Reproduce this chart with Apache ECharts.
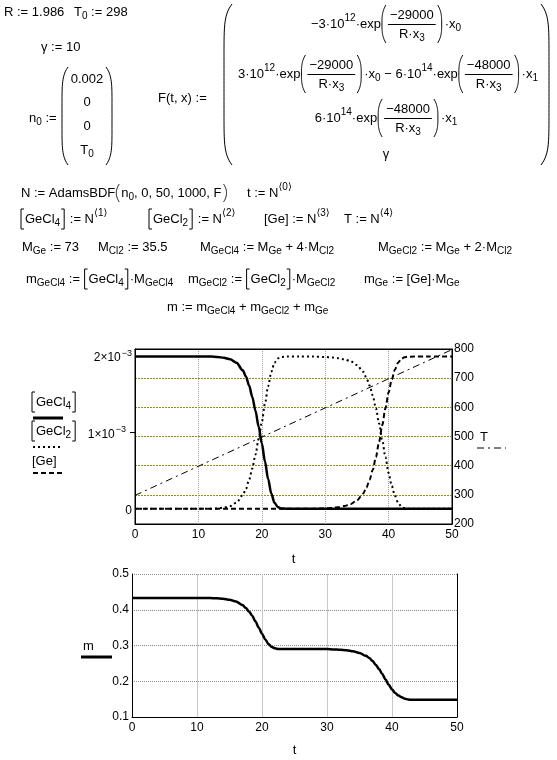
<!DOCTYPE html>
<html><head><meta charset="utf-8">
<script src="https://cdn.jsdelivr.net/npm/echarts@6/dist/echarts.min.js"></script>
<style>html,body{margin:0;padding:0;background:#fff}#c{width:557px;height:760px}</style>
</head><body><div id="c"></div>
<script>
// ---------------- data ----------------
const tTime = [0, 10, 12, 13, 14, 15, 16, 17, 17.5, 18, 18.5, 19, 19.5, 20, 20.5, 21, 21.5, 22, 22.5, 23,
  24, 26, 28, 30, 31, 32, 33, 34, 35, 36, 36.5, 37, 37.5, 38, 38.5, 39, 39.5, 40, 40.5, 41, 41.5, 42, 42.5, 43, 44, 46, 50];
// concentrations in units of 1e-3
const gecl4 = [2.0, 2.0, 2.0, 1.995, 1.985, 1.965, 1.92, 1.82, 1.74, 1.62, 1.47, 1.29, 1.08, 0.86, 0.62, 0.39, 0.2, 0.08, 0.025, 0.005,
  0, 0, 0, 0, 0, 0, 0, 0, 0, 0, 0, 0, 0, 0, 0, 0, 0, 0, 0, 0, 0, 0, 0, 0, 0, 0, 0];
const gecl2 = [0, 0, 0, 0.005, 0.015, 0.035, 0.08, 0.18, 0.26, 0.38, 0.53, 0.71, 0.92, 1.14, 1.38, 1.61, 1.8, 1.92, 1.975, 1.995,
  2.0, 2.0, 2.0, 1.995, 1.99, 1.98, 1.965, 1.94, 1.89, 1.8, 1.72, 1.62, 1.49, 1.32, 1.12, 0.9, 0.68, 0.47, 0.3, 0.17, 0.08, 0.03, 0.01, 0.002, 0, 0, 0];
const geConc = [0, 0, 0, 0, 0, 0, 0, 0, 0, 0, 0, 0, 0, 0, 0, 0, 0, 0, 0, 0,
  0, 0, 0, 0.005, 0.01, 0.02, 0.035, 0.06, 0.11, 0.2, 0.28, 0.38, 0.51, 0.68, 0.88, 1.1, 1.32, 1.53, 1.7, 1.83, 1.92, 1.97, 1.99, 1.998, 2.0, 2.0, 2.0];
const tempTime = [0, 50];
const tempVals = [298, 798];
const massVals = [0.433, 0.433, 0.433, 0.432, 0.431, 0.428, 0.423, 0.413, 0.405, 0.395, 0.383, 0.367, 0.35, 0.333, 0.317, 0.304, 0.296, 0.292, 0.29, 0.29,
  0.29, 0.29, 0.29, 0.29, 0.289, 0.288, 0.287, 0.284, 0.279, 0.271, 0.265, 0.257, 0.246, 0.234, 0.22, 0.205, 0.19, 0.177, 0.167, 0.16, 0.155, 0.151, 0.149, 0.148, 0.148, 0.148, 0.148];
const concLabelValues = [0, 1, 2];
const concTickValues = [1];

// ---------------- formula text layout ----------------
const FF = '"Liberation Sans", Arial, "DejaVu Sans", sans-serif';
const FS = 13, SS = 10, SUBDY = 4, SUPDY = 6;
const mctx = document.createElement('canvas').getContext('2d');
function W(s, size) { mctx.font = size + 'px "Liberation Sans", Arial, "DejaVu Sans", sans-serif'; return mctx.measureText(s).width; }
const G = [];
function txt(x, y, s, size) {
  G.push({type: 'text', x: x, y: y, silent: true,
    style: {text: s, fontSize: size, fontFamily: FF, fill: '#000', textAlign: 'left', align: 'left', textVerticalAlign: 'middle', verticalAlign: 'middle'}});
}
function seg(x1, y1, x2, y2, w, dash) {
  G.push({type: 'line', silent: true, shape: {x1: x1, y1: y1, x2: x2, y2: y2}, style: {stroke: '#000', lineWidth: w || 1, lineDash: dash || null}});
}
function poly(pts) {
  G.push({type: 'polyline', silent: true, shape: {points: pts}, style: {stroke: '#000', fill: null, lineWidth: 1}});
}
function paren(x, y0, y1, side, w, p) {
  const pts = [], n = 40;
  for (let i = 0; i <= n; i++) {
    const u = 2 * i / n - 1, dx = w * Math.pow(Math.abs(u), p);
    pts.push([side === 'L' ? x + dx : x - dx, y0 + (y1 - y0) * i / n]);
  }
  poly(pts);
}
function lay(x, y, toks, draw) {
  for (const t of toks) {
    if (typeof t === 'string') { if (draw) txt(x, y, t, FS); x += W(t, FS); }
    else if (t.s !== undefined) { if (draw) txt(x, y + SUBDY, t.s, SS); x += W(t.s, SS); }
    else if (t.p !== undefined) { if (draw) txt(x, y - SUPDY, t.p, SS); x += W(t.p, SS); }
    else if (t.f) {
      const wn = lay(0, 0, t.f[0], false), wd = lay(0, 0, t.f[1], false);
      const w = Math.max(wn, wd) + 4;
      if (draw) { lay(x + (w - wn) / 2, y - 9, t.f[0], true); lay(x + (w - wd) / 2, y + 10, t.f[1], true); seg(x, y + 0.5, x + w, y + 0.5, 1); }
      x += w;
    }
    else if (t.par) {
      const h = t.h || 19, pw = t.pw || 4, pp = t.pp || 3;
      if (draw) paren(x + 1, y - h, y + h, 'L', pw, pp);
      x += pw + 3;
      x = lay(x, y, t.par, draw);
      x += 2;
      if (draw) paren(x + pw, y - h, y + h, 'R', pw, pp);
      x += pw + 3;
    }
    else if (t.br) {
      const top = y - 10, bot = y + 10;
      if (draw) poly([[x + 4, top], [x + 1, top], [x + 1, bot], [x + 4, bot]]);
      x += 5;
      x = lay(x, y, t.br, draw);
      x += 1;
      if (draw) poly([[x, top], [x + 3, top], [x + 3, bot], [x, bot]]);
      x += 5;
    }
    else if (t.sp) { x += t.sp; }
  }
  return x;
}
function center(xc, y, toks) { const w = lay(0, 0, toks, false); lay(xc - w / 2, y, toks, true); }

// header definitions
lay(4, 12, ['R := 1.986'], true);
lay(74, 12, ['T', {s: '0'}, ' := 298'], true);
lay(41, 47, ['γ := 10'], true);
lay(29, 118, ['n', {s: '0'}, ' :='], true);
paren(62, 67, 165, 'L', 6, 6);
paren(112, 67, 165, 'R', 6, 6);
center(87, 79, ['0.002']);
center(87, 102, ['0']);
center(87, 126, ['0']);
center(87, 150, ['T', {s: '0'}]);
lay(158, 98, ['F(t, x) :='], true);
paren(224, 4, 165, 'L', 8, 8);
paren(549, 4, 165, 'R', 8, 8);
const frac29 = {par: [{f: [['−29000'], ['R·x', {s: '3'}]]}]};
const frac48 = {par: [{f: [['−48000'], ['R·x', {s: '3'}]]}]};
center(386, 24, ['−3·10', {p: '12'}, '·exp', frac29, '·x', {s: '0'}]);
center(388, 74, ['3·10', {p: '12'}, '·exp', frac29, '·x', {s: '0'}, ' − 6·10', {p: '14'}, '·exp', frac48, '·x', {s: '1'}]);
center(386, 118, ['6·10', {p: '14'}, '·exp', frac48, '·x', {s: '1'}]);
center(386, 154, ['γ']);

lay(21, 193, ['N := AdamsBDF', {par: ['n', {s: '0'}, ', 0, 50, 1000, F'], h: 9, pw: 3, pp: 2}], true);
lay(247, 193, ['t := N', {p: '⟨0⟩'}], true);
lay(20, 219, [{br: ['GeCl', {s: '4'}]}, ' := N', {p: '⟨1⟩'}], true);
lay(148, 219, [{br: ['GeCl', {s: '2'}]}, ' := N', {p: '⟨2⟩'}], true);
lay(264, 219, ['[Ge] := N', {p: '⟨3⟩'}], true);
lay(344, 219, ['T := N', {p: '⟨4⟩'}], true);
lay(22, 247, ['M', {s: 'Ge'}, ' := 73'], true);
lay(98, 247, ['M', {s: 'Cl2'}, ' := 35.5'], true);
lay(200, 247, ['M', {s: 'GeCl4'}, ' := M', {s: 'Ge'}, ' + 4·M', {s: 'Cl2'}], true);
lay(378, 247, ['M', {s: 'GeCl2'}, ' := M', {s: 'Ge'}, ' + 2·M', {s: 'Cl2'}], true);
lay(26, 279, ['m', {s: 'GeCl4'}, ' := ', {br: ['GeCl', {s: '4'}]}, '·M', {s: 'GeCl4'}], true);
lay(188, 279, ['m', {s: 'GeCl2'}, ' := ', {br: ['GeCl', {s: '2'}]}, '·M', {s: 'GeCl2'}], true);
lay(364, 279, ['m', {s: 'Ge'}, ' := [Ge]·M', {s: 'Ge'}], true);
lay(167, 307, ['m := m', {s: 'GeCl4'}, ' + m', {s: 'GeCl2'}, ' + m', {s: 'Ge'}], true);

// plot legends (trace labels)
lay(31, 402, [{br: ['GeCl', {s: '4'}]}], true);
seg(33, 418, 63, 418, 3);
lay(31, 431, [{br: ['GeCl', {s: '2'}]}], true);
seg(33, 447, 61, 447, 2, [2, 3]);
lay(32, 461, ['[Ge]'], true);
seg(33, 473, 62, 473, 2, [5, 3]);
lay(480, 437, ['T'], true);
seg(477, 448, 506, 448, 1, [7, 4, 2, 4]);
lay(83, 646, ['m'], true);
seg(81, 657, 112, 657, 3);

// ---------------- chart ----------------
const zip = (a, b) => a.map((v, i) => [v, b[i]]);
const lab = {color: '#000', fontSize: 12, fontFamily: FF};
const chart = echarts.init(document.getElementById('c'), null, {renderer: 'canvas'});
chart.setOption({
  animation: false,
  backgroundColor: '#fff',
  grid: [
    {left: 135, top: 349, width: 317, height: 175, show: true, borderColor: '#000', borderWidth: 1, backgroundColor: 'transparent'},
    {left: 132, top: 574, width: 325, height: 143}
  ],
  xAxis: [
    {gridIndex: 0, type: 'value', min: 0, max: 50, interval: 10,
      axisLine: {show: true, onZero: false, lineStyle: {color: '#000'}}, axisTick: {show: false},
      axisLabel: Object.assign({margin: 5}, lab),
      splitLine: {show: true, showMinLine: false, showMaxLine: false, lineStyle: {color: '#a0a0a0', type: [1, 1]}},
      name: 't', nameLocation: 'middle', nameGap: 29, nameTextStyle: {color: '#000', fontSize: 13, fontFamily: FF}},
    {gridIndex: 0, type: 'value', min: 0, max: 50, position: 'top',
      axisLine: {show: true, onZero: false, lineStyle: {color: '#000'}}, axisTick: {show: false}, axisLabel: {show: false}, splitLine: {show: false}},
    {gridIndex: 1, type: 'value', min: 0, max: 50, interval: 10,
      axisLine: {show: true, onZero: false, lineStyle: {color: '#000'}}, axisTick: {show: false},
      axisLabel: Object.assign({margin: 5}, lab),
      splitLine: {show: true, showMinLine: false, showMaxLine: false, lineStyle: {color: '#c8c8c8'}},
      name: 't', nameLocation: 'middle', nameGap: 27, nameTextStyle: {color: '#000', fontSize: 13, fontFamily: FF}}
  ],
  yAxis: [
    {gridIndex: 0, type: 'value', min: -0.2, max: 2.1, position: 'left',
      axisLine: {show: true, onZero: false, lineStyle: {color: '#000'}},
      axisTick: {show: true, customValues: concTickValues, length: 5, lineStyle: {color: '#000'}},
      axisLabel: {customValues: concLabelValues, margin: 3, color: '#000', fontFamily: FF,
        formatter: v => v === 0 ? '{a|0}' : (v === 1 ? '{a|1×10}{s|−3}{g|}' : '{a|' + v + '×10}{s|−3}'),
        rich: {a: {fontSize: 12, fontFamily: FF, color: '#000', lineHeight: 15, verticalAlign: 'bottom'},
               s: {fontSize: 9, fontFamily: FF, color: '#000', lineHeight: 15, verticalAlign: 'top', padding: [0, 0, 0, 1]},
               g: {width: 6}}},
      splitLine: {show: false}},
    {gridIndex: 0, type: 'value', min: 200, max: 800, interval: 100, position: 'right',
      axisLine: {show: true, onZero: false, lineStyle: {color: '#000'}}, axisTick: {show: false},
      axisLabel: Object.assign({margin: 2}, lab),
      splitLine: {show: true, showMinLine: false, showMaxLine: false, lineStyle: {color: '#8c8c20', type: [2, 1]}}},
    {gridIndex: 1, type: 'value', min: 0.1, max: 0.5, interval: 0.1, position: 'left',
      axisLine: {show: true, onZero: false, lineStyle: {color: '#000'}}, axisTick: {show: false},
      axisLabel: Object.assign({margin: 3, formatter: v => v.toFixed(1)}, lab),
      splitLine: {show: true, showMinLine: false, lineStyle: {color: '#8a8a8a', type: [1, 1]}}},
    {gridIndex: 1, type: 'value', min: 0.1, max: 0.5, position: 'right',
      axisLine: {show: true, onZero: false, lineStyle: {color: '#000'}}, axisTick: {show: false}, axisLabel: {show: false}, splitLine: {show: false}}
  ],
  series: [
    {type: 'line', xAxisIndex: 0, yAxisIndex: 0, data: zip(tTime, gecl4), showSymbol: false, smooth: 0.3, smoothMonotone: 'x',
      lineStyle: {color: '#000', width: 2.5}},
    {type: 'line', xAxisIndex: 0, yAxisIndex: 0, data: zip(tTime, gecl2), showSymbol: false, smooth: 0.3, smoothMonotone: 'x',
      lineStyle: {color: '#000', width: 2, type: [2, 3]}},
    {type: 'line', xAxisIndex: 0, yAxisIndex: 0, data: zip(tTime, geConc), showSymbol: false, smooth: 0.3, smoothMonotone: 'x',
      lineStyle: {color: '#000', width: 2, type: [5, 3]}},
    {type: 'line', xAxisIndex: 0, yAxisIndex: 1, data: zip(tempTime, tempVals), showSymbol: false,
      lineStyle: {color: '#000', width: 1, type: [7, 4, 2, 4]}},
    {type: 'line', xAxisIndex: 2, yAxisIndex: 2, data: zip(tTime, massVals), showSymbol: false, smooth: 0.3, smoothMonotone: 'x',
      lineStyle: {color: '#000', width: 2.5}}
  ],
  graphic: {elements: G}
});
</script>
</body></html>
